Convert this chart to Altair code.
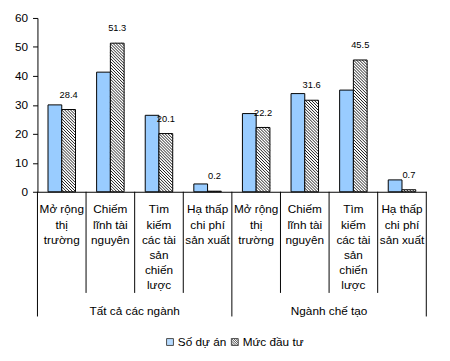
import altair as alt
import pandas as pd

# ---- data ----
groups = ["Tất cả các ngành", "Ngành chế tạo"]
categories = [
    "Mở rộng\nthị\ntrường",
    "Chiếm\nlĩnh tài\nnguyên",
    "Tìm\nkiếm\ncác tài\nsản\nchiến\nlược",
    "Hạ thấp\nchi phí\nsản xuất",
]
series = ["Số dự án", "Mức đầu tư"]
so_du_an = [30.0, 41.3, 26.4, 2.7, 27.0, 33.9, 35.1, 4.1]
muc_dau_tu = [28.4, 51.3, 20.1, 0.2, 22.2, 31.6, 45.5, 0.7]
y_ticks = [0, 10, 20, 30, 40, 50, 60]

# ---- layout constants (style) ----
W, H = 396, 177
NCELL = 8
KX = W / NCELL          # px per cell
KY = H / 60.0           # px per unit
BW = 14 / KX            # bar width in cell units
FONT = "Liberation Sans"
BLUE = "#99CCFF"

rows = []
for g, gname in enumerate(groups):
    for c, cat in enumerate(categories):
        i = g * 4 + c
        rows.append({"idx": i, "group": gname, "cat": cat,
                     "so": so_du_an[i], "muc": muc_dau_tu[i]})
df = pd.DataFrame(rows)

bounds = pd.DataFrame({"b": list(range(NCELL + 1))})
gdf = pd.DataFrame({"group": groups, "gidx": [0, 1]})
sdf = pd.DataFrame({"series": series})

xs = alt.Scale(domain=[0, NCELL], nice=False, zero=False)
ys = alt.Scale(domain=[0, 60], nice=False, zero=False)
xaxis = alt.Axis(labels=False, ticks=False, grid=False, title=None,
                 domainColor="black", domainWidth=1)
yaxis = alt.Axis(values=y_ticks, grid=False, title=None, tickSize=5,
                 tickColor="black", domainColor="black", labelColor="black",
                 labelFont=FONT, labelFontSize=12, labelPadding=5)

base = alt.Chart(df).transform_calculate(
    xb0=f"datum.idx + 0.5 - {BW}",
    xb1="datum.idx + 0.5",
    xh1=f"datum.idx + 0.5 + {BW}",
    xhc=f"datum.idx + 0.5 + {BW / 2}",
)

blue = base.mark_bar(fill=BLUE, stroke="black", strokeWidth=1).encode(
    x=alt.X("xb0:Q", scale=xs, axis=xaxis),
    x2="xb1:Q",
    y=alt.Y("so:Q", scale=ys, axis=yaxis),
    y2=alt.datum(0),
)

hatch_bg = base.mark_bar(fill="white", strokeWidth=0).encode(
    x=alt.X("xb1:Q", scale=xs, axis=xaxis),
    x2="xh1:Q",
    y=alt.Y("muc:Q", scale=ys, axis=yaxis),
    y2=alt.datum(0),
)

STEP = 3.0
hatch = alt.Chart(df).transform_calculate(
    L=f"(datum.idx + 0.5) * {KX}",
).transform_calculate(
    R="datum.L + 14",
    T=f"{H} - datum.muc * {KY}",
    B=f"{H}",
).transform_calculate(
    cs=f"sequence(ceil((datum.T - datum.R) / {STEP}) * {STEP}, datum.B - datum.L, {STEP})"
).transform_flatten(["cs"], as_=["c"]).transform_calculate(
    x1p="max(datum.L, datum.T - datum.c)",
    x2p="min(datum.R, datum.B - datum.c)",
).transform_filter("datum.x2p - datum.x1p > 0.2").transform_calculate(
    xa=f"datum.x1p / {KX}",
    xb=f"datum.x2p / {KX}",
    va=f"({H} - (datum.x1p + datum.c)) / {KY}",
    vb=f"({H} - (datum.x2p + datum.c)) / {KY}",
).mark_rule(color="black", strokeWidth=0.9).encode(
    x=alt.X("xa:Q", scale=xs, axis=xaxis),
    x2="xb:Q",
    y=alt.Y("va:Q", scale=ys, axis=yaxis),
    y2="vb:Q",
)

hatch_outline = base.mark_bar(fillOpacity=0, stroke="black", strokeWidth=1).encode(
    x=alt.X("xb1:Q", scale=xs, axis=xaxis),
    x2="xh1:Q",
    y=alt.Y("muc:Q", scale=ys, axis=yaxis),
    y2=alt.datum(0),
)

vlabels = base.mark_text(font=FONT, fontSize=9.5, color="black", dy=-12,
                         baseline="alphabetic").encode(
    x=alt.X("xhc:Q", scale=xs, axis=xaxis),
    y=alt.Y("muc:Q", scale=ys, axis=yaxis),
    text=alt.Text("muc:Q", format=".1f"),
)

clabels = base.mark_text(font=FONT, fontSize=12, color="black", lineBreak="\n",
                         lineHeight=15.5, baseline="top").encode(
    x=alt.X("xb1:Q", scale=xs, axis=xaxis),
    y=alt.value(H + 13),
    text="cat:N",
)

inner = alt.Chart(bounds).transform_filter("datum.b % 4 != 0").mark_rule(
    color="black", strokeWidth=1).encode(
    x=alt.X("b:Q", scale=xs, axis=xaxis),
    y=alt.value(H), y2=alt.value(H + 103),
)
outer = alt.Chart(bounds).transform_filter("datum.b % 4 == 0").mark_rule(
    color="black", strokeWidth=1).encode(
    x=alt.X("b:Q", scale=xs, axis=xaxis),
    y=alt.value(H), y2=alt.value(H + 127),
)

glabels = alt.Chart(gdf).transform_calculate(
    gx="datum.gidx * 4 + 2"
).mark_text(font=FONT, fontSize=12, color="black", baseline="middle").encode(
    x=alt.X("gx:Q", scale=xs, axis=xaxis),
    y=alt.value(H + 121),
    text="group:N",
)

hatch_sym = ("M-1,-1H1V1H-1Z"
             "M0.33,-1L1,-0.33M-0.33,-1L1,0.33M-1,-1L1,1"
             "M-1,-0.33L0.33,1M-1,0.33L-0.33,1")
leg = alt.Legend(title=None, orient="none", legendX=129, legendY=324,
                 direction="horizontal", symbolSize=49,
                 symbolStrokeColor="black", symbolStrokeWidth=1,
                 labelFont=FONT, labelFontSize=12, labelColor="black",
                 columnPadding=2, labelOffset=2)
legend_pts = alt.Chart(sdf).mark_point(filled=True, size=0).encode(
    color=alt.Color("series:N",
                    scale=alt.Scale(domain=series, range=[BLUE, "white"]),
                    legend=leg),
    shape=alt.Shape("series:N",
                    scale=alt.Scale(domain=series, range=["square", hatch_sym]),
                    legend=leg),
)

chart = alt.layer(
    blue, hatch_bg, hatch, hatch_outline, vlabels, clabels,
    inner, outer, glabels, legend_pts,
).properties(
    width=W, height=H,
    autosize=alt.AutoSizeParams(type="none"),
    padding={"left": 30, "top": 7, "right": 16, "bottom": 159},
).configure_view(stroke=None).configure_legend(
    symbolStrokeColor="black", symbolStrokeWidth=1)

chart.save("out.html", embed_options={"renderer": "svg", "actions": False})
